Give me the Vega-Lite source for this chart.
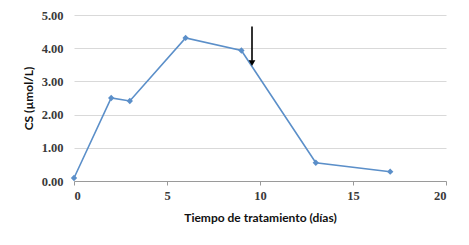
{
  "$schema": "https://vega.github.io/schema/vega-lite/v6.json",
  "autosize": "none",
  "width": 372,
  "height": 166,
  "padding": {"left": 74, "top": 15, "right": 23, "bottom": 64},
  "background": "white",
  "config": {
    "view": {"stroke": null},
    "font": "Lato",
    "axis": {
      "labelFont": "Liberation Serif",
      "titleFont": "Lato",
      "labelFontWeight": "bold",
      "titleFontWeight": "bold",
      "labelColor": "#3a3a3a",
      "titleColor": "#111111",
      "labelFontSize": 12.5,
      "titleFontSize": 12,
      "labelOverlap": false
    }
  },
  "datasets": {
    "series": [
      {"dias": 0, "cs": 0.09},
      {"dias": 2, "cs": 2.50},
      {"dias": 3, "cs": 2.41},
      {"dias": 6, "cs": 4.31},
      {"dias": 9, "cs": 3.93},
      {"dias": 13, "cs": 0.55},
      {"dias": 17, "cs": 0.28}
    ],
    "arrow": [
      {"dias": 9.57, "cs": 4.65, "cs2": 3.62}
    ],
    "tip": [
      {"dias": 9.57, "cs": 3.55}
    ]
  },
  "encoding": {
    "x": {
      "field": "dias", "type": "quantitative",
      "scale": {"domain": [0, 20], "nice": false},
      "axis": {
        "title": "Tiempo de tratamiento (días)",
        "values": [0, 5, 10, 15, 20],
        "grid": false,
        "domainColor": "#9a9a9a",
        "tickColor": "#9a9a9a",
        "tickSize": 4,
        "labelPadding": 4,
        "titlePadding": 11
      }
    },
    "y": {
      "field": "cs", "type": "quantitative",
      "scale": {"domain": [0, 5], "nice": false},
      "axis": {
        "title": "CS (µmol/L)",
        "values": [0, 1, 2, 3, 4, 5],
        "tickCount": 6,
        "format": ".2f",
        "grid": true,
        "gridColor": "#d9d9d9",
        "domain": false,
        "ticks": false,
        "labelPadding": 11,
        "titlePadding": 6
      }
    }
  },
  "layer": [
    {
      "data": {"name": "series"},
      "mark": {"type": "line", "color": "#5b8fc9", "strokeWidth": 1.6}
    },
    {
      "data": {"name": "series"},
      "mark": {"type": "point", "shape": "diamond", "filled": true, "color": "#5b8fc9", "size": 40, "opacity": 1}
    },
    {
      "data": {"name": "arrow"},
      "mark": {"type": "rule", "color": "black", "strokeWidth": 1.6},
      "encoding": {
        "y2": {"field": "cs2"}
      }
    },
    {
      "data": {"name": "tip"},
      "mark": {"type": "point", "shape": "triangle-down", "filled": true, "color": "black", "size": 45, "opacity": 1}
    }
  ]
}
